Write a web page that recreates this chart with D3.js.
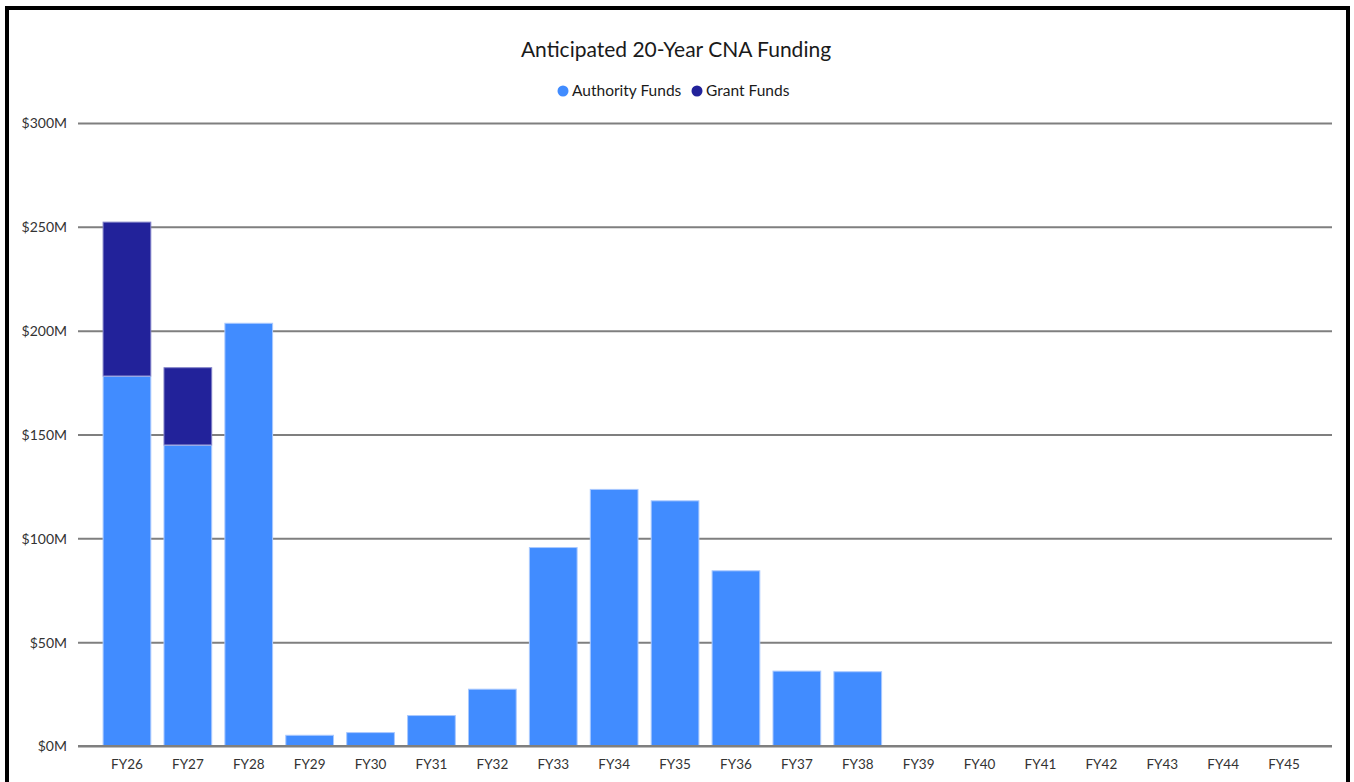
<!DOCTYPE html>
<html>
<head>
<meta charset="utf-8">
<script src="https://cdn.jsdelivr.net/npm/d3@7"></script>
<style>
  html, body { margin: 0; padding: 0; background: #fff; }
  svg { display: block; }
  text { font-family: Lato, "Open Sans", sans-serif; }
</style>
</head>
<body>
<svg id="chart" width="1354" height="782"></svg>
<script>
const categories = ["FY26","FY27","FY28","FY29","FY30","FY31","FY32","FY33","FY34","FY35","FY36","FY37","FY38","FY39","FY40","FY41","FY42","FY43","FY44","FY45"];
const authorityFunds = [178.2, 145, 203.8, 5.4, 6.7, 14.9, 27.6, 95.8, 123.8, 118.3, 84.6, 36.3, 36.0, 0, 0, 0, 0, 0, 0, 0];
const grantFunds = [74.3, 37.4, 0, 0, 0, 0, 0, 0, 0, 0, 0, 0, 0, 0, 0, 0, 0, 0, 0, 0];
const yTicks = [0, 50, 100, 150, 200, 250, 300];
const seriesNames = ["Authority Funds", "Grant Funds"];
const seriesColors = ["#418cff", "#22229a"];
const strokeColors = ["#a9c9ff", "#8080c8"];

const svg = d3.select("#chart");

// frame
svg.append("rect").attr("x", 7).attr("y", 8).attr("width", 1341).attr("height", 800)
  .attr("fill", "none").attr("stroke", "#000").attr("stroke-width", 4);

const y = d3.scaleLinear().domain([0, 300]).range([746, 123]);
const x = d3.scaleBand().domain(categories).range([96.5, 1314.5]).paddingInner(0.2).paddingOuter(0.1);

// gridlines
const yAxis = d3.axisLeft(y).tickValues(yTicks).tickSize(0).tickPadding(0).tickFormat(d => "$" + d + "M");
const gy = svg.append("g").attr("transform", "translate(78,0)").call(yAxis);
gy.select(".domain").remove();
gy.selectAll(".tick line").remove();
gy.selectAll(".tick").append("line")
  .attr("x1", 0).attr("x2", 1254).attr("y1", 0).attr("y2", 0)
  .attr("stroke", "#7f7f7f").attr("stroke-width", 2);
gy.selectAll(".tick text").attr("x", -11).attr("dy", "0.35em")
  .attr("fill", "#333").attr("font-size", 14).attr("text-anchor", "end");

// stacked bars
const rows = categories.map((c, i) => ({ cat: c, a: authorityFunds[i], g: grantFunds[i] }));
const stack = d3.stack().keys(["a", "g"])(rows);
stack.forEach((layer, li) => {
  svg.append("g").selectAll("rect").data(layer.filter(d => d[1] - d[0] > 0)).join("rect")
    .attr("x", d => x(d.data.cat) + 0.5)
    .attr("width", x.bandwidth() - 1)
    .attr("y", d => y(d[1]) + 0.5)
    .attr("height", d => Math.max(0, y(d[0]) - y(d[1]) - (li === 0 ? 1 : 0.5)))
    .attr("fill", seriesColors[li])
    .attr("stroke", strokeColors[li])
    .attr("stroke-width", 1);
});

// redraw baseline over bars
svg.append("line").attr("x1", 78).attr("x2", 1332).attr("y1", y(0)).attr("y2", y(0))
  .attr("stroke", "#7f7f7f").attr("stroke-width", 2);

// x axis labels
const xAxis = d3.axisBottom(x).tickSize(0).tickPadding(0);
const gx = svg.append("g").attr("transform", "translate(0,746)").call(xAxis);
gx.select(".domain").remove();
gx.selectAll(".tick text").attr("y", 13).attr("dy", "0.71em")
  .attr("fill", "#333").attr("font-size", 13.5);

// title
svg.append("text").attr("x", 676).attr("y", 57).attr("text-anchor", "middle")
  .attr("font-size", 21).attr("fill", "#1a1a1a").text("Anticipated 20-Year CNA Funding");

// legend
const legendX = [563, 697];
seriesNames.forEach((n, i) => {
  svg.append("circle").attr("cx", legendX[i]).attr("cy", 91).attr("r", 5.5).attr("fill", seriesColors[i]);
  svg.append("text").attr("x", legendX[i] + 9).attr("y", 91).attr("dy", "0.35em")
    .attr("font-size", 15.5).attr("fill", "#1a1a1a").text(n);
});
</script>
</body>
</html>
